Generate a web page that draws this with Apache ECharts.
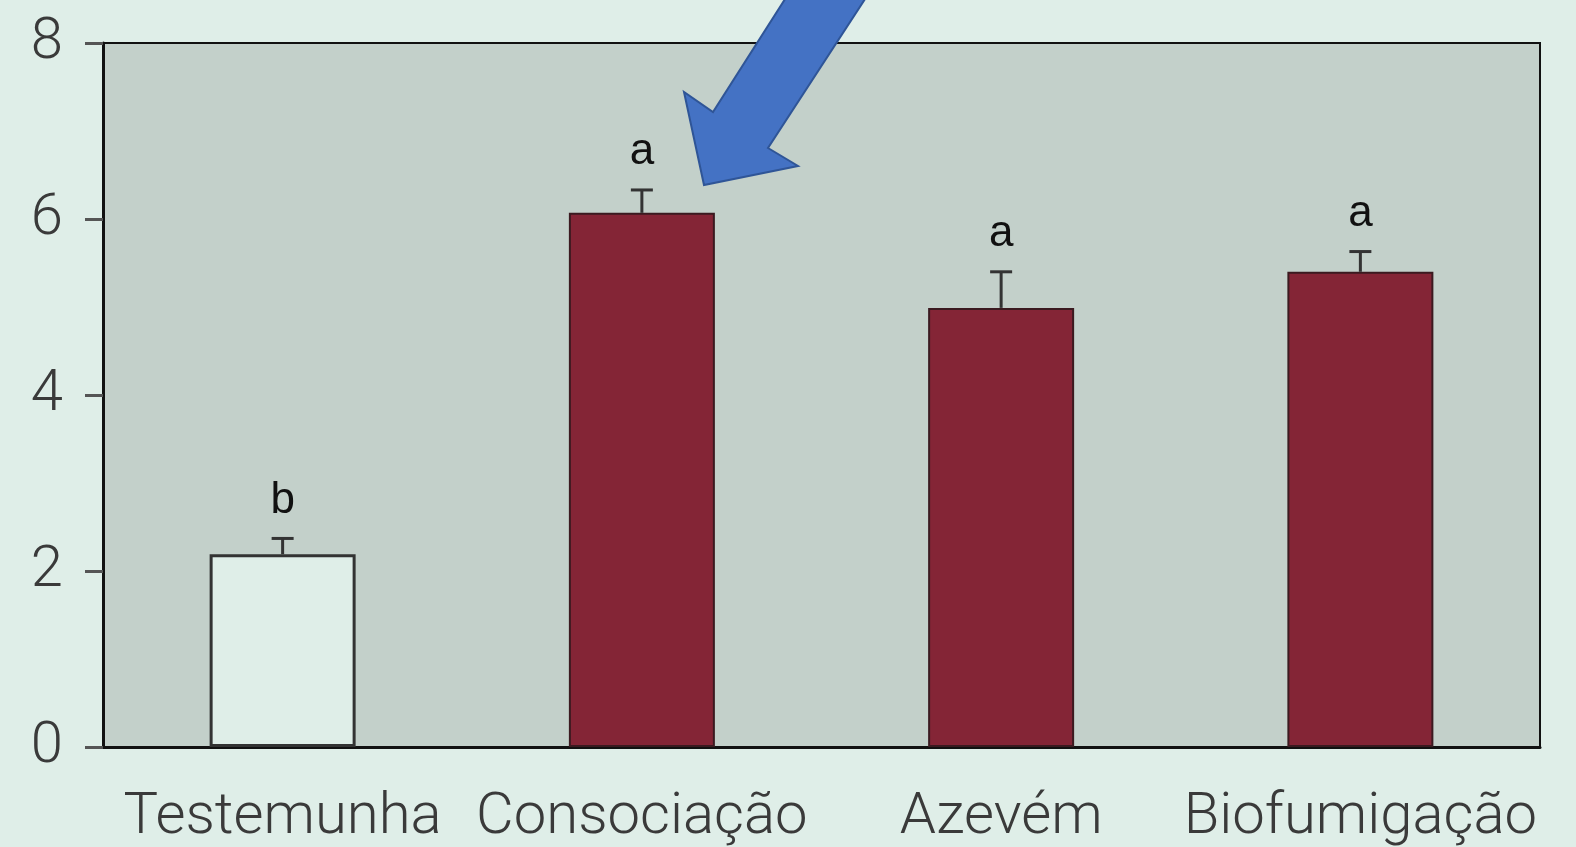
<!DOCTYPE html>
<html>
<head>
<meta charset="utf-8">
<script src="https://cdn.jsdelivr.net/npm/echarts@6/dist/echarts.min.js"></script>
<style>
  html, body { margin: 0; padding: 0; background: #dfeee8; }
  #chart { width: 1576px; height: 847px; }
</style>
</head>
<body>
<div id="chart"></div>
<script>
// data
const categories = ['Testemunha', 'Consociação', 'Azevém', 'Biofumigação']
const means = [2.19, 6.07, 4.99, 5.4]
const errorTops = [2.37, 6.33, 5.4, 5.63]
const letters = ['b', 'a', 'a', 'a']
const yTicks = { min: 0, max: 8, interval: 2 }

const barColors = ['#dfeee8', '#842536', '#842536', '#842536']

const chart = echarts.init(document.getElementById('chart'))

const option = {
  backgroundColor: '#dfeee8',
  grid: {
    left: 103, right: 36, top: 43, bottom: 100,
    show: true,
    backgroundColor: '#c3d0ca',
    borderColor: '#111',
    borderWidth: 2
  },
  xAxis: {
    type: 'category',
    data: categories,
    axisLine: { lineStyle: { color: '#111', width: 3 } },
    axisTick: { length: 18, lineStyle: { color: '#333', width: 2 } },
    axisLabel: {
      interval: 0,
      margin: 42,
      fontFamily: 'Roboto',
      fontWeight: 300,
      fontSize: 58,
      color: '#3a3a3a'
    }
  },
  yAxis: {
    type: 'value',
    min: yTicks.min, max: yTicks.max, interval: yTicks.interval,
    splitLine: { show: false },
    axisLine: { show: true, lineStyle: { color: '#111', width: 3 } },
    axisTick: { show: true, length: 18, lineStyle: { color: '#555', width: 3 } },
    axisLabel: {
      margin: 40,
      fontFamily: 'Roboto',
      fontWeight: 300,
      fontSize: 58,
      color: '#3a3a3a'
    }
  },
  series: [
    {
      type: 'bar',
      barWidth: 146,
      data: means.map((v, i) => ({
        value: v,
        itemStyle: {
          color: barColors[i],
          borderColor: i === 0 ? '#333' : '#3b1a20',
          borderWidth: i === 0 ? 3 : 2
        }
      })),
      z: 2
    },
    {
      type: 'custom',
      data: means.map((v, i) => [i, v, errorTops[i]]),
      z: 3,
      renderItem: function (params, api) {
        const i = api.value(0)
        const base = api.coord([i, api.value(1)])
        const top = api.coord([i, api.value(2)])
        const cap = 11
        return {
          type: 'group',
          children: [
            { type: 'line', shape: { x1: base[0], y1: base[1], x2: top[0], y2: top[1] },
              style: { stroke: '#333', lineWidth: 3 } },
            { type: 'line', shape: { x1: top[0] - cap, y1: top[1], x2: top[0] + cap, y2: top[1] },
              style: { stroke: '#333', lineWidth: 3 } },
            { type: 'text', x: top[0], y: top[1] - 16,
              style: { text: letters[i], fill: '#111', font: '44px "Liberation Sans", Arial, sans-serif',
                align: 'center', verticalAlign: 'bottom' } }
          ]
        }
      }
    }
  ],
  graphic: [
    {
      type: 'polygon',
      z: 100,
      shape: {
        points: [[787, -4], [713, 112], [684, 92], [704, 185], [798, 166], [768, 148], [867, -4]]
      },
      style: { fill: '#4472c4', stroke: '#2f5597', lineWidth: 2 }
    }
  ]
}

chart.setOption(option)
</script>
</body>
</html>
